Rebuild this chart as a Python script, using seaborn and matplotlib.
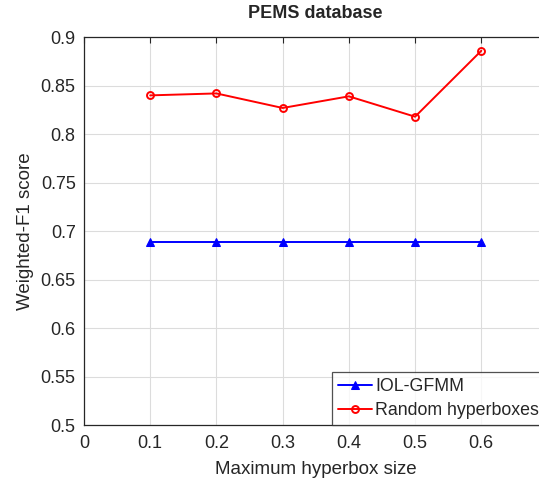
import matplotlib
matplotlib.use("Agg")
import matplotlib.pyplot as plt
import numpy as np
import pandas as pd
import seaborn as sns

# values
box_sizes = [0.1, 0.2, 0.3, 0.4, 0.5, 0.6]
iol_gfmm = [0.689, 0.689, 0.689, 0.689, 0.689, 0.689]
random_boxes = [0.840, 0.842, 0.827, 0.839, 0.818, 0.886]

sns.set_style("white")
plt.rcParams['font.family'] = ['Liberation Sans', 'DejaVu Sans']

df = pd.DataFrame({
    "size": box_sizes * 2,
    "score": iol_gfmm + random_boxes,
    "method": ["IOL-GFMM"] * 6 + ["Random hyperboxes"] * 6,
})

fig = plt.figure(figsize=(5.39, 4.83), dpi=100)
ax = fig.add_axes([0.1558, 0.12, 0.86, 0.803])

sns.lineplot(data=df[df.method == "IOL-GFMM"], x="size", y="score", ax=ax,
             color="blue", marker="^", markersize=6, markeredgecolor="blue",
             linewidth=1.4, label="IOL-GFMM")
sns.lineplot(data=df[df.method == "Random hyperboxes"], x="size", y="score", ax=ax,
             color="red", marker="o", markersize=5, markerfacecolor="none",
             markeredgecolor="red", markeredgewidth=1.4, linewidth=1.4,
             label="Random hyperboxes")

ax.set_xlim(0, 0.7)
ax.set_ylim(0.5, 0.9)
ax.set_xticks(np.arange(0, 0.75, 0.1))
# the 0.7 label falls outside the cropped figure
ax.set_xticklabels(["0", "0.1", "0.2", "0.3", "0.4", "0.5", "0.6", ""])
ax.set_yticks(np.arange(0.5, 0.91, 0.05))
ax.set_yticklabels(["0.5", "0.55", "0.6", "0.65", "0.7", "0.75", "0.8", "0.85", "0.9"])
ax.grid(True, color="#dcdcdc", linewidth=0.8)
ax.tick_params(direction="in", length=4, top=True, right=True, labelsize=13,
               color="#262626", labelcolor="#262626")
ax.tick_params(axis="x", pad=7)
ax.tick_params(axis="y", pad=6)
for s in ax.spines.values():
    s.set_color("#262626")
    s.set_linewidth(0.9)

ax.set_xlabel("Maximum hyperbox size", fontsize=13.5, color="#262626", labelpad=7)
ax.set_ylabel("Weighted-F1 score", fontsize=13.5, color="#262626", labelpad=5)
ax.set_title("PEMS database", fontsize=13, fontweight="bold", pad=14)

leg = ax.legend(loc="lower right", bbox_to_anchor=(1.012, 0.12),
                bbox_transform=fig.transFigure, borderaxespad=0,
                fontsize=12.8, frameon=True, fancybox=False, handlelength=1.9,
                handletextpad=0.2, borderpad=0.35, labelspacing=0.38)
leg.get_frame().set_edgecolor("#262626")
leg.get_frame().set_linewidth(0.9)

fig.savefig("out.png", dpi=100)
